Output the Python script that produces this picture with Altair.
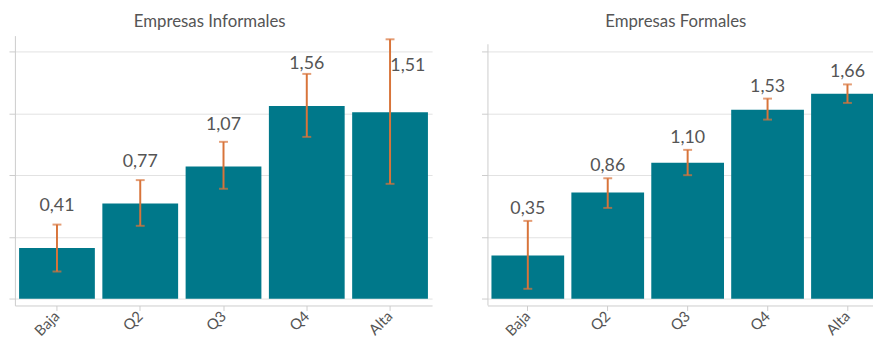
import altair as alt
import pandas as pd

categories = ["Baja", "Q2", "Q3", "Q4", "Alta"]

informal_values = [0.41, 0.77, 1.07, 1.56, 1.51]
informal_low = [0.22, 0.59, 0.89, 1.31, 0.93]
informal_high = [0.60, 0.96, 1.27, 1.82, 2.10]

formal_values = [0.35, 0.86, 1.10, 1.53, 1.66]
formal_low = [0.08, 0.735, 1.00, 1.45, 1.585]
formal_high = [0.63, 0.975, 1.205, 1.62, 1.735]

# y-axis extents (data units)
y_domain = [-0.055, 2.13]
formal_axis = [-0.055, 2.06]

BAR = "#00788A"
ERR = "#D8743A"
TXT = "#555555"
AXC = "#cccccc"
FONT = "Lato"
H = 273


def panel(title, vals, lo, hi, width, title_dx, label_on_error, axis_ext=None):
    df = pd.DataFrame({"cat": categories, "value": vals, "lo": lo, "hi": hi})
    df["label"] = [f"{v:.2f}".replace(".", ",") for v in vals]
    base = alt.Chart(df)
    xs = alt.X("cat:N", sort=categories)
    x = alt.X(
        "cat:N",
        sort=categories,
        title=None,
        scale=alt.Scale(paddingInner=0.09, paddingOuter=0.05),
        axis=alt.Axis(
            labelAngle=-45,
            labelAlign="right",
            labelBaseline="middle",
            labelFontSize=15,
            labelColor=TXT,
            labelFont=FONT,
            labelPadding=3,
            tickSize=5,
            tickColor=AXC,
            domainColor=AXC,
            grid=False,
        ),
    )
    yscale = alt.Scale(domain=y_domain, nice=False, zero=False)
    y = alt.Y(
        "value:Q",
        title=None,
        scale=yscale,
        axis=alt.Axis(
            values=[0, 0.5, 1, 1.5, 2],
            labels=False,
            tickSize=6,
            tickColor=AXC,
            domain=axis_ext is None,
            domainColor=AXC,
            gridColor="#e2e2e2",
        ),
    )
    bars = base.mark_bar(color=BAR).encode(x=x, y=y, y2=alt.datum(0))
    rule = base.mark_rule(color=ERR, strokeWidth=2).encode(
        x=xs, y=alt.Y("lo:Q", scale=yscale), y2="hi:Q"
    )
    cap_hi = base.mark_tick(color=ERR, thickness=2, size=9, orient="horizontal").encode(
        x=xs, y=alt.Y("hi:Q", scale=yscale)
    )
    cap_lo = base.mark_tick(color=ERR, thickness=2, size=9, orient="horizontal").encode(
        x=xs, y=alt.Y("lo:Q", scale=yscale)
    )
    tstyle = dict(baseline="alphabetic", fontSize=18, color=TXT, font=FONT)
    if label_on_error:
        labels = [
            base.mark_text(dy=-7, **tstyle).encode(
                x=xs, y=alt.Y("hi:Q", scale=yscale), text="label:N"
            )
        ]
    else:
        labels = [
            base.transform_filter("datum.hi <= 2")
            .mark_text(dy=-37, **tstyle)
            .encode(x=xs, y=alt.Y("value:Q", scale=yscale), text="label:N"),
            base.transform_filter("datum.hi > 2")
            .mark_text(dy=-42, dx=18, **tstyle)
            .encode(x=xs, y=alt.Y("value:Q", scale=yscale), text="label:N"),
        ]
    layers = [bars, rule, cap_hi, cap_lo] + labels
    if axis_ext is not None:
        axis_line = alt.Chart(pd.DataFrame({"a": [axis_ext[0]], "b": [axis_ext[1]]})).mark_rule(
            color=AXC, strokeWidth=1
        ).encode(x=alt.value(0.5), y=alt.Y("a:Q", scale=yscale), y2="b:Q")
        layers.insert(0, axis_line)
    return alt.layer(*layers).properties(
        width=width,
        height=H,
        title=alt.TitleParams(
            title, fontSize=17, font=FONT, color=TXT, fontWeight="normal",
            offset=5, dx=title_dx, anchor="middle",
        ),
    )


left = panel("Empresas Informales", informal_values, informal_low, informal_high,
             422, -14, False)
right = panel("Empresas Formales", formal_values, formal_low, formal_high,
              405, -12, True, formal_axis)

chart = (
    alt.hconcat(left, right, spacing=49)
    .properties(padding={"top": 3, "left": 0, "right": -15, "bottom": 0})
    .configure_view(stroke=None)
    .configure_axis(labelFont=FONT)
)

chart.save("out.html", embed_options={"renderer": "svg", "actions": False})
